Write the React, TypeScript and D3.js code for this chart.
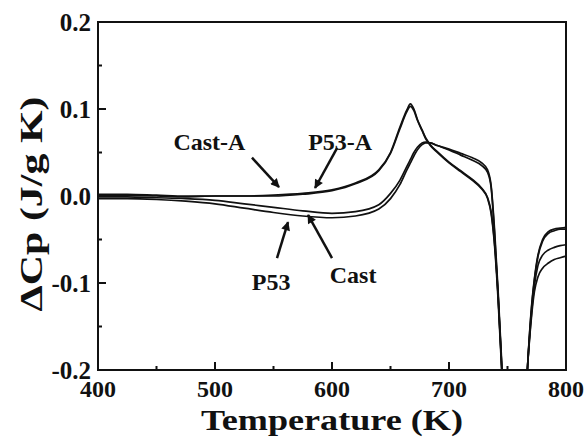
import * as d3 from "d3";

// temperature grid (K) for the main segment and the recovery segment past the dip
const tempMain = [400, 425, 450, 475, 500, 525, 550, 575, 600, 620, 640, 650, 658, 664, 667, 670, 673, 677, 680, 684, 690, 700, 710, 720, 728, 733, 736, 739, 742, 745, 748];
const tempRecov = [765, 767, 769, 771, 773, 776, 780, 785, 790, 795, 800];

// ΔCp (J/g K)
const castA = [0.002, 0.002, 0.001, 0.0, 0.0, 0.0, 0.001, 0.003, 0.007, 0.015, 0.03, 0.05, 0.079, 0.099, 0.106, 0.1, 0.088, 0.076, 0.067, 0.059, 0.051, 0.039, 0.029, 0.019, 0.009, -0.002, -0.018, -0.055, -0.115, -0.195, -0.28];
const p53A = [0.001, 0.001, 0.0, -0.001, 0.0, 0.0, 0.0, 0.002, 0.006, 0.014, 0.029, 0.049, 0.077, 0.097, 0.103, 0.098, 0.087, 0.075, 0.066, 0.058, 0.05, 0.038, 0.028, 0.018, 0.008, -0.003, -0.02, -0.058, -0.12, -0.2, -0.28];
const cast = [-0.001, -0.001, -0.002, -0.003, -0.005, -0.009, -0.013, -0.017, -0.02, -0.018, -0.01, 0.003, 0.018, 0.034, 0.042, 0.05, 0.056, 0.061, 0.062, 0.061, 0.058, 0.054, 0.049, 0.044, 0.038, 0.03, 0.012, -0.04, -0.11, -0.19, -0.27];
const p53 = [-0.003, -0.003, -0.004, -0.006, -0.009, -0.014, -0.019, -0.023, -0.025, -0.023, -0.015, -0.003, 0.013, 0.03, 0.038, 0.046, 0.053, 0.059, 0.061, 0.061, 0.058, 0.053, 0.047, 0.041, 0.035, 0.027, 0.01, -0.045, -0.115, -0.195, -0.28];

const castARecov = [-0.26, -0.2, -0.155, -0.12, -0.095, -0.068, -0.05, -0.041, -0.038, -0.037, -0.036];
const p53ARecov = [-0.26, -0.2, -0.156, -0.122, -0.097, -0.07, -0.052, -0.043, -0.04, -0.038, -0.038];
const castRecov = [-0.26, -0.2, -0.16, -0.128, -0.103, -0.08, -0.068, -0.062, -0.059, -0.057, -0.056];
const p53Recov = [-0.26, -0.2, -0.162, -0.132, -0.11, -0.093, -0.083, -0.077, -0.073, -0.071, -0.069];

const xTicks = [400, 500, 600, 700, 800];
const xMinor = [450, 550, 650, 750];
const yTicks = [-0.2, -0.1, 0.0, 0.1, 0.2];
const yMinor = [-0.15, -0.05, 0.05, 0.15];

// annotation labels: [text, T, ΔCp, anchor]
const labels: [string, number, number, string][] = [
  ["Cast-A", 526, 0.053, "end"],
  ["P53-A", 607, 0.053, "middle"],
  ["P53", 548, -0.108, "middle"],
  ["Cast", 618, -0.1, "middle"],
];
// arrows: [T tail, ΔCp tail, T tip, ΔCp tip]
const arrows: [number, number, number, number][] = [
  [531.6, 0.044, 554.7, 0.0103],
  [604.3, 0.055, 585.5, 0.0092],
  [553, -0.0713, 562.4, -0.03],
  [600, -0.0713, 579.5, -0.0218],
];

const width = 587,
  height = 438;
const MARGIN = { top: 22, right: 21, bottom: 68, left: 98 };
const boundsWidth = width - MARGIN.left - MARGIN.right;
const boundsHeight = height - MARGIN.top - MARGIN.bottom;
const FONT = "Times New Roman, Liberation Serif, serif";

const App = () => {
  const xScale = d3.scaleLinear().domain([400, 800]).range([0, boundsWidth]);
  const yScale = d3.scaleLinear().domain([-0.2, 0.2]).range([boundsHeight, 0]);

  const line = d3
    .line<[number, number]>()
    .x((d) => xScale(d[0]))
    .y((d) => yScale(d[1]))
    .curve(d3.curveMonotoneX);

  const series = [
    [castA, castARecov],
    [p53A, p53ARecov],
    [cast, castRecov],
    [p53, p53Recov],
  ];

  const paths = series.flatMap(([main, recov], i) => [
    <path
      key={"m" + i}
      d={line(tempMain.map((t, j) => [t, main[j]])) || ""}
      fill="none"
      stroke="#111"
      strokeWidth={1.7}
    />,
    <path
      key={"r" + i}
      d={line(tempRecov.map((t, j) => [t, recov[j]])) || ""}
      fill="none"
      stroke="#111"
      strokeWidth={1.7}
    />,
  ]);

  return (
    <svg
      width={width}
      height={height}
      style={{ position: "absolute", left: 0, top: 0, background: "#fff" }}
      fontFamily={FONT}
      fontWeight="bold"
    >
      <defs>
        <clipPath id="plot">
          <rect x={0} y={0} width={boundsWidth} height={boundsHeight} />
        </clipPath>
        <marker
          id="head"
          viewBox="0 0 10 10"
          refX={9}
          refY={5}
          markerWidth={11}
          markerHeight={9}
          markerUnits="userSpaceOnUse"
          orient="auto"
        >
          <path d="M0,0 L10,5 L0,10 z" fill="#111" />
        </marker>
      </defs>
      <g transform={`translate(${MARGIN.left},${MARGIN.top})`}>
        <g clipPath="url(#plot)">{paths}</g>

        {arrows.map((a, i) => (
          <line
            key={i}
            x1={xScale(a[0])}
            y1={yScale(a[1])}
            x2={xScale(a[2])}
            y2={yScale(a[3])}
            stroke="#111"
            strokeWidth={2.5}
            markerEnd="url(#head)"
          />
        ))}
        {labels.map(([t, x, y, anchor], i) => (
          <text key={i} x={xScale(x)} y={yScale(y)} textAnchor={anchor} fontSize={24} fill="#111">
            {t}
          </text>
        ))}

        {/* ticks inward */}
        {xTicks.map((v) => (
          <line key={"xt" + v} x1={xScale(v)} x2={xScale(v)} y1={boundsHeight} y2={boundsHeight - 8} stroke="#111" strokeWidth={2} />
        ))}
        {xMinor.map((v) => (
          <line key={"xm" + v} x1={xScale(v)} x2={xScale(v)} y1={boundsHeight} y2={boundsHeight - 4} stroke="#111" strokeWidth={2} />
        ))}
        {yTicks.map((v) => (
          <line key={"yt" + v} x1={0} x2={8} y1={yScale(v)} y2={yScale(v)} stroke="#111" strokeWidth={2} />
        ))}
        {yMinor.map((v) => (
          <line key={"ym" + v} x1={0} x2={4} y1={yScale(v)} y2={yScale(v)} stroke="#111" strokeWidth={2} />
        ))}

        <rect x={0} y={0} width={boundsWidth} height={boundsHeight} fill="none" stroke="#111" strokeWidth={2} />

        {xTicks.map((v) => (
          <text key={"xl" + v} x={xScale(v)} y={boundsHeight + 27} textAnchor="middle" fontSize={24} fill="#111">
            {v}
          </text>
        ))}
        {yTicks.map((v) => (
          <text key={"yl" + v} x={-7} y={yScale(v)} dy="0.35em" textAnchor="end" fontSize={25} fill="#111">
            {v.toFixed(1)}
          </text>
        ))}

        <text
          x={boundsWidth / 2}
          y={boundsHeight + 60}
          textAnchor="middle"
          fontSize={30}
          textLength={262}
          lengthAdjust="spacingAndGlyphs"
          fill="#111"
        >
          Temperature (K)
        </text>
        <text
          transform={`translate(${-56},${182}) rotate(-90)`}
          textAnchor="middle"
          fontSize={32}
          textLength={215}
          lengthAdjust="spacingAndGlyphs"
          fill="#111"
        >
          ΔCp (J/g K)
        </text>
      </g>
    </svg>
  );
};

export default App;
